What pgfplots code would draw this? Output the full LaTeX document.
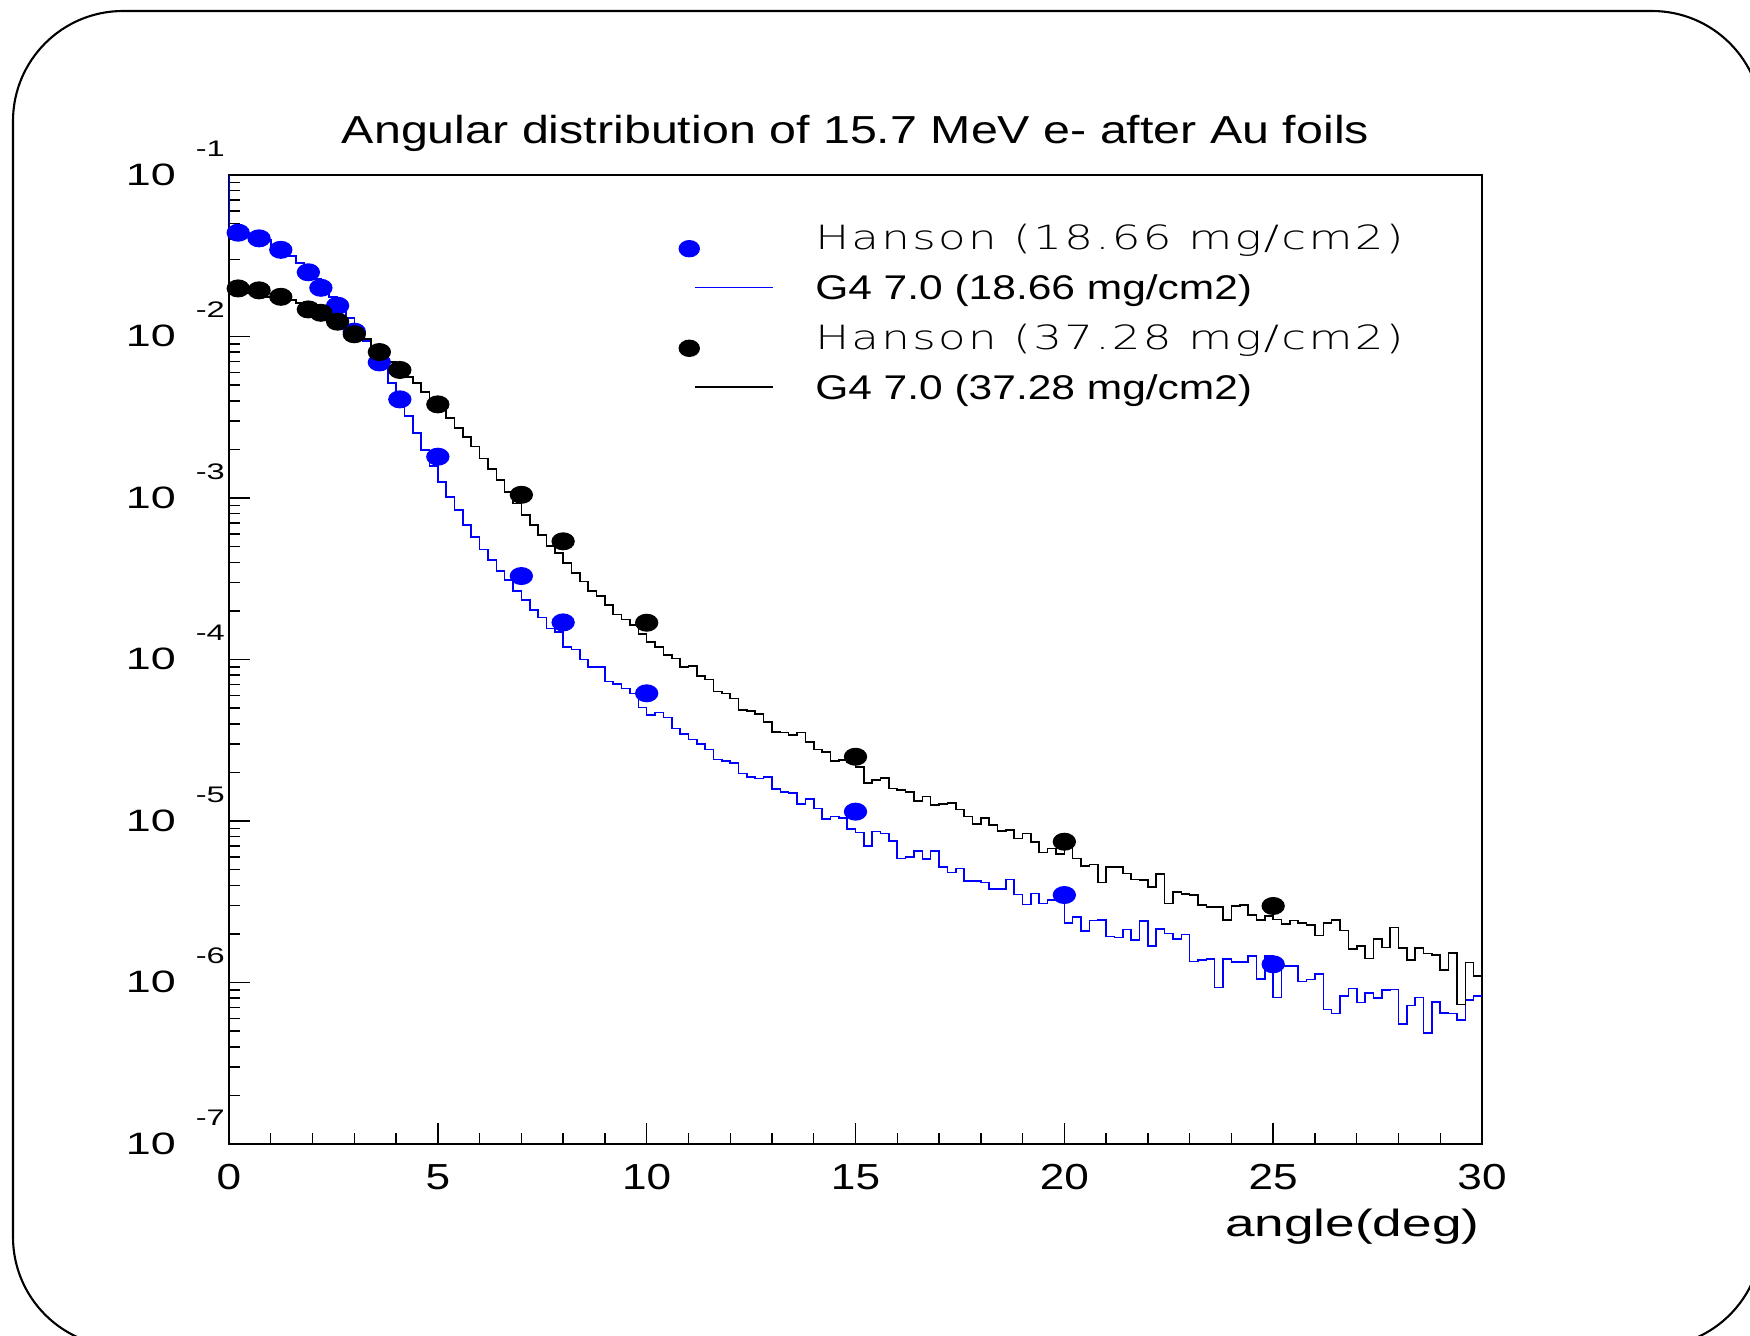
\documentclass[border=0pt]{standalone}
\usepackage{fontspec}
\setmainfont{Liberation Sans}
\newfontfamily\titlefamily{Liberation Sans}[FakeStretch=1.24]
\newfontfamily\ytickfamily{Liberation Sans}[FakeStretch=1.45]
\newfontfamily\xtickfamily{Liberation Sans}[FakeStretch=1.22]
\newfontfamily\labelfamily{Liberation Sans}[FakeStretch=1.4]
\IfFontExistsTF{DejaVu Sans ExtraLight}
  {\newfontfamily\thinfamily{DejaVu Sans ExtraLight}[FakeStretch=1.35,LetterSpace=7]}
  {\newfontfamily\thinfamily{Liberation Sans}[FakeStretch=1.35,LetterSpace=15,Color=555555]}
\usepackage{pgfplots}
\usepackage{pgfplotstable}
\pgfplotsset{compat=1.18}

\pgfplotstableread{
x b k
0.22 4.395e-2 1.986e-2
0.72 4.055e-2 1.932e-2
1.24 3.443e-2 1.762e-2
1.90 2.500e-2 1.472e-2
2.20 2.004e-2 1.403e-2
2.60 1.552e-2 1.236e-2
3.00 1.072e-2 1.033e-2
3.60 6.918e-3 8.017e-3
4.09 4.083e-3 6.209e-3
5.00 1.803e-3 3.802e-3
7.00 3.289e-4 1.047e-3
8.00 1.698e-4 5.395e-4
10.0 6.180e-5 1.690e-4
15.0 1.143e-5 2.500e-5
20.0 3.483e-6 7.447e-6
25.0 1.297e-6 2.979e-6
}\hanson

\pgfplotstableread{
x b k
0 2e-1 nan
0.0 4.55e-2 1.888e-2
0.2 4.436e-2 1.888e-2
0.4 4.315e-2 1.858e-2
0.6 4.130e-2 1.807e-2
0.8 3.963e-2 1.758e-2
1.0 3.690e-2 1.706e-2
1.2 3.436e-2 1.683e-2
1.4 3.148e-2 1.683e-2
1.6 2.851e-2 1.611e-2
1.8 2.582e-2 1.545e-2
2.0 2.270e-2 1.479e-2
2.2 1.995e-2 1.419e-2
2.4 1.758e-2 1.340e-2
2.6 1.545e-2 1.265e-2
2.8 1.303e-2 1.161e-2
3.0 1.096e-2 1.052e-2
3.2 9.376e-3 9.661e-3
3.4 7.907e-3 8.730e-3
3.6 6.561e-3 7.798e-3
3.8 5.152e-3 6.950e-3
4.0 4.217e-3 6.209e-3
4.2 3.221e-3 5.610e-3
4.4 2.523e-3 5.152e-3
4.6 1.982e-3 4.529e-3
4.8 1.578e-3 4.046e-3
5.0 1.256e-3 3.508e-3
5.2 1.014e-3 3.126e-3
5.4 8.433e-4 2.710e-3
5.6 6.808e-4 2.388e-3
5.8 5.754e-4 2.080e-3
6.0 4.808e-4 1.762e-3
6.2 4.130e-4 1.507e-3
6.4 3.548e-4 1.291e-3
6.6 3.105e-4 1.094e-3
6.8 2.667e-4 9.268e-4
7.0 2.333e-4 7.852e-4
7.2 2.028e-4 6.808e-4
7.4 1.824e-4 5.902e-4
7.6 1.560e-4 5.047e-4
7.8 1.486e-4 4.550e-4
8.0 1.199e-4 3.972e-4
8.2 1.156e-4 3.443e-4
8.4 1.002e-4 3.034e-4
8.6 9.016e-5 2.667e-4
8.8 8.954e-5 2.472e-4
9.0 7.295e-5 2.173e-4
9.2 7.047e-5 1.905e-4
9.4 6.637e-5 1.774e-4
9.6 6.180e-5 1.637e-4
9.8 5.058e-5 1.439e-4
10.0 4.529e-5 1.288e-4
10.2 4.688e-5 1.199e-4
10.4 4.385e-5 1.067e-4
10.6 3.750e-5 1.016e-4
10.8 3.459e-5 8.954e-5
11.0 3.206e-5 9.120e-5
11.2 2.999e-5 7.907e-5
11.4 2.780e-5 7.534e-5
11.6 2.410e-5 6.324e-5
11.8 2.355e-5 6.152e-5
12.0 2.296e-5 5.754e-5
12.2 1.972e-5 4.864e-5
12.4 1.879e-5 4.797e-5
12.6 1.837e-5 4.603e-5
12.8 1.879e-5 4.121e-5
13.0 1.578e-5 3.573e-5
13.2 1.507e-5 3.524e-5
13.4 1.496e-5 3.412e-5
13.6 1.274e-5 3.524e-5
13.8 1.368e-5 3.097e-5
14.0 1.199e-5 2.780e-5
14.2 1.028e-5 2.685e-5
14.4 1.064e-5 2.355e-5
14.6 1.040e-5 2.388e-5
14.8 8.892e-6 2.328e-5
15.0 8.472e-6 2.168e-5
15.2 7.031e-6 1.726e-5
15.4 8.590e-6 1.795e-5
15.6 8.395e-6 1.854e-5
15.8 7.551e-6 1.592e-5
16.0 5.875e-6 1.556e-5
16.2 6.012e-6 1.507e-5
16.4 6.546e-6 1.330e-5
16.6 5.821e-6 1.416e-5
16.8 6.546e-6 1.256e-5
17.0 5.212e-6 1.274e-5
17.2 4.808e-6 1.297e-5
17.4 5.093e-6 1.180e-5
17.6 4.266e-6 1.064e-5
17.8 4.266e-6 9.572e-6
18.0 4.169e-6 1.040e-5
18.2 3.793e-6 9.441e-6
18.4 3.793e-6 8.710e-6
18.6 4.355e-6 8.790e-6
18.8 3.516e-6 7.816e-6
19.0 3.048e-6 8.395e-6
19.2 3.565e-6 7.447e-6
19.4 3.090e-6 6.397e-6
19.6 3.243e-6 6.776e-6
19.8 3.396e-6 6.252e-6
20.0 2.328e-6 7.096e-6
20.2 2.553e-6 5.875e-6
20.4 2.084e-6 5.260e-6
20.6 2.415e-6 5.395e-6
20.8 2.438e-6 4.169e-6
21.0 1.923e-6 5.212e-6
21.2 1.905e-6 5.212e-6
21.4 2.133e-6 4.742e-6
21.6 1.832e-6 4.355e-6
21.8 2.404e-6 4.315e-6
22.0 1.683e-6 3.917e-6
22.2 2.143e-6 4.699e-6
22.4 2.018e-6 3.090e-6
22.6 1.854e-6 3.648e-6
22.8 1.986e-6 3.532e-6
23.0 1.346e-6 3.483e-6
23.2 1.377e-6 3.020e-6
23.4 1.393e-6 2.931e-6
23.6 9.290e-7 2.931e-6
23.8 1.393e-6 2.438e-6
24.0 1.340e-6 2.979e-6
24.2 1.340e-6 3.020e-6
24.4 1.459e-6 2.618e-6
24.6 1.054e-6 2.438e-6
24.8 1.459e-6 2.582e-6
25.0 8.091e-7 2.460e-6
25.2 1.265e-6 2.301e-6
25.4 1.270e-6 2.415e-6
25.6 1.016e-6 2.344e-6
25.8 1.047e-6 2.270e-6
26.0 1.125e-6 1.950e-6
26.2 6.823e-7 2.344e-6
26.4 6.442e-7 2.438e-6
26.6 8.241e-7 2.094e-6
26.8 9.204e-7 1.618e-6
27.0 7.534e-7 1.683e-6
27.2 8.650e-7 1.413e-6
27.4 8.054e-7 1.854e-6
27.6 8.995e-7 1.652e-6
27.8 9.078e-7 2.198e-6
28.0 5.534e-7 1.641e-6
28.2 7.228e-7 1.377e-6
28.4 8.091e-7 1.641e-6
28.6 4.887e-7 1.517e-6
28.8 7.603e-7 1.479e-6
29.0 6.501e-7 1.194e-6
29.2 6.442e-7 1.528e-6
29.4 5.861e-7 7.328e-7
29.6 7.798e-7 1.327e-6
29.8 8.279e-7 1.096e-6
30.0 8.279e-7 1.096e-6
}\hist

\begin{document}
\begin{tikzpicture}[x=1cm,y=1cm]
\useasboundingbox (0,0) rectangle (17.5,13.35);
\clip (0,0) rectangle (17.5,13.35);
\draw[line width=0.6pt, rounded corners=1.1cm] (0.13,-0.12) rectangle (17.62,13.24);
\node[font=\titlefamily\fontsize{11.1}{13}\selectfont, anchor=base, inner sep=0pt] at (8.555,11.92)
  {Angular distribution of 15.7 MeV e- after Au foils};
\begin{axis}[
  at={(2.29cm,1.91cm)}, anchor=south west,
  scale only axis, width=12.53cm, height=9.69cm,
  xmin=0, xmax=30, ymin=1e-7, ymax=1e-1,
  ymode=log, log basis y=10,
  xtick={0,5,10,15,20,25,30}, minor x tick num=4,
  ytick={1e-7,1e-6,1e-5,1e-4,1e-3,1e-2,1e-1},
  minor ytick={2e-7,3e-7,4e-7,5e-7,6e-7,7e-7,8e-7,9e-7,
               2e-6,3e-6,4e-6,5e-6,6e-6,7e-6,8e-6,9e-6,
               2e-5,3e-5,4e-5,5e-5,6e-5,7e-5,8e-5,9e-5,
               2e-4,3e-4,4e-4,5e-4,6e-4,7e-4,8e-4,9e-4,
               2e-3,3e-3,4e-3,5e-3,6e-3,7e-3,8e-3,9e-3,
               2e-2,3e-2,4e-2,5e-2,6e-2,7e-2,8e-2,9e-2},
  xtick pos=bottom, ytick pos=left, tick align=inside,
  major tick length=0.21cm, minor tick length=0.11cm,
  every tick/.style={black, line width=0.4pt},
  axis line style={line width=0.5pt},
  /pgf/number format/assume math mode=true,
  xticklabel style={font=\xtickfamily\fontsize{10.3}{12}\selectfont, yshift=-0.08cm},
  yticklabel={10\hspace{0.2cm}\raisebox{0.29cm}{\fontsize{6.4}{7}\selectfont\pgfmathparse{int(round(\tick))}\pgfmathresult}},
  yticklabel style={font=\ytickfamily\fontsize{8.8}{10}\selectfont, anchor=base east, inner sep=0pt, xshift=-0.035cm, yshift=-0.10cm},
  xlabel={angle(deg)},
  xlabel style={font=\labelfamily\fontsize{10.8}{12}\selectfont, at={(axis description cs:1,0)}, anchor=base east, inner sep=0pt, yshift=-0.92cm, xshift=-0.02cm},
  legend style={draw=none, fill=none, inner xsep=0pt, inner ysep=0pt,
    at={(0.3548,0.9597)}, anchor=north west, row sep=0pt, column sep=0pt,
    nodes={inner sep=0pt, text height=0.30cm, text depth=0.10cm, draw=none},
    cells={anchor=west},
    font=\titlefamily\fontsize{9.75}{11}\selectfont},
]
\addplot[const plot, blue, line width=0.45pt, forget plot] table[x=x, y=b] {\hist};
\addplot[const plot, black, line width=0.45pt, forget plot] table[x=x, y=k] {\hist};
\addplot[only marks, mark=*, mark size=0.083cm, mark options={xscale=1.32, fill=blue, draw=blue}, forget plot] table[x=x, y=b] {\hanson};
\addplot[only marks, mark=*, mark size=0.083cm, mark options={xscale=1.32, fill=black, draw=black}, forget plot] table[x=x, y=k] {\hanson};

\addlegendimage{legend image code/.code={\path[draw=none,fill=none] (-0.15cm,-0.249cm) rectangle (1.26cm,0.249cm); \fill[blue] (0cm,-0.09cm) ellipse [x radius=0.1cm, y radius=0.08cm];}}
\addlegendentry{\thinfamily\fontsize{9.5}{11}\selectfont Hanson (18.66 mg/cm2)}
\addlegendimage{legend image code/.code={\path[draw=none,fill=none] (-0.15cm,-0.249cm) rectangle (1.26cm,0.249cm); \draw[blue, line width=0.45pt] (0.054cm,0.02cm) -- (0.834cm,0.02cm);}}
\addlegendentry{G4 7.0 (18.66 mg/cm2)}
\addlegendimage{legend image code/.code={\path[draw=none,fill=none] (-0.15cm,-0.249cm) rectangle (1.26cm,0.249cm); \fill[black] (0cm,-0.09cm) ellipse [x radius=0.1cm, y radius=0.08cm];}}
\addlegendentry{\thinfamily\fontsize{9.5}{11}\selectfont Hanson (37.28 mg/cm2)}
\addlegendimage{legend image code/.code={\path[draw=none,fill=none] (-0.15cm,-0.249cm) rectangle (1.26cm,0.249cm); \draw[black, line width=0.45pt] (0.054cm,0.02cm) -- (0.834cm,0.02cm);}}
\addlegendentry{G4 7.0 (37.28 mg/cm2)}
\end{axis}
\end{tikzpicture}
\end{document}
